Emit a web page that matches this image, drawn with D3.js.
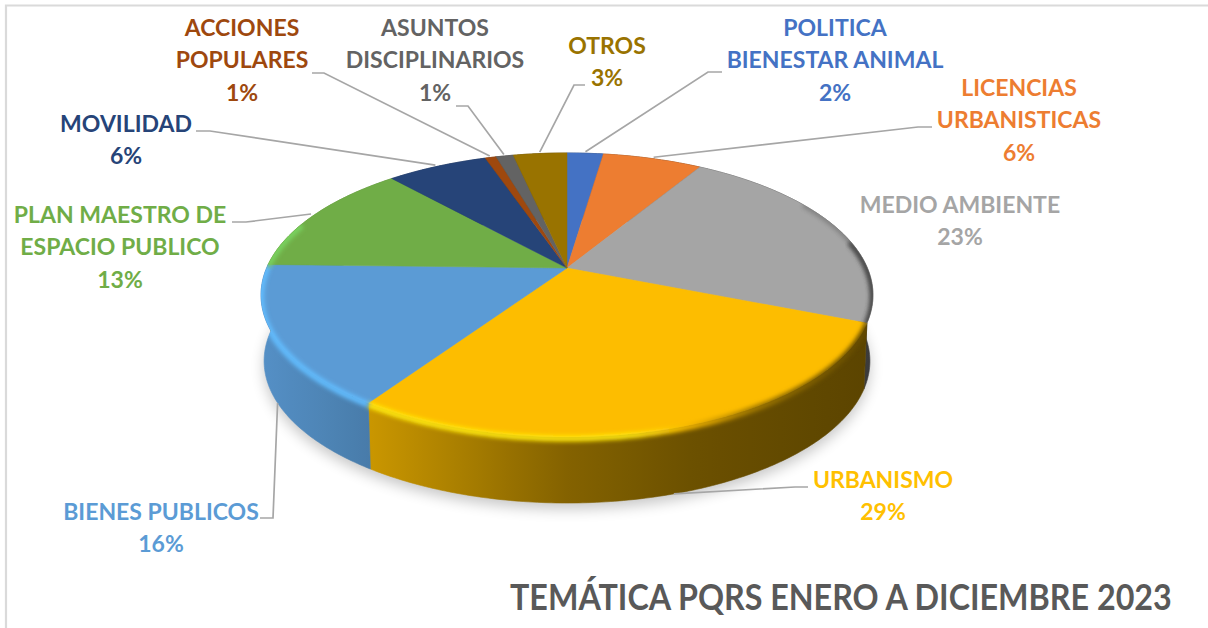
<!DOCTYPE html>
<html><head><meta charset="utf-8">
<script src="https://cdn.jsdelivr.net/npm/d3@7"></script>
<style>html,body{margin:0;padding:0;background:#fff;overflow:hidden}svg{display:block}text{font-family:Lato,"Open Sans",sans-serif;font-weight:700}</style>
</head><body><svg id="c" width="1208" height="628"></svg>
<script>
const titleText = "TEMÁTICA PQRS ENERO A DICIEMBRE 2023";
const categories = ["POLITICA BIENESTAR ANIMAL","LICENCIAS URBANISTICAS","MEDIO AMBIENTE","URBANISMO","BIENES PUBLICOS","PLAN MAESTRO DE ESPACIO PUBLICO","MOVILIDAD","ACCIONES POPULARES","ASUNTOS DISCIPLINARIOS","OTROS"];
const values = [2.3,6.3,22.5,28.3,16,13,6.4,0.7,1.1,3.4];
const percentLabels = ["2%","6%","23%","29%","16%","13%","6%","1%","1%","3%"];
const colors = ["#4472c4","#ed7d31","#a5a5a5","#fdbd00","#5b9bd5","#70ad47","#264478","#9e480e","#636363","#997300"];

/* layout (not data) */
const labelLines = [["POLITICA","BIENESTAR ANIMAL"],["LICENCIAS","URBANISTICAS"],["MEDIO AMBIENTE"],["URBANISMO"],["BIENES PUBLICOS"],["PLAN MAESTRO DE","ESPACIO PUBLICO"],["MOVILIDAD"],["ACCIONES","POPULARES"],["ASUNTOS","DISCIPLINARIOS"],["OTROS"]];
const labelPos = [[835,35.5],[1019,95.5],[960,212.5],[883,487.5],[161,519.5],[120,222.5],[126,131.5],[242,35.5],[435,35.5],[607,53.5]];
const elbows = [[[722,72],[708,72]],[[932,127],[918,127]],null,[[808,487],[795,487]],[[260,518],[273,518]],[[232,222],[246,222]],[[196,131],[210,131]],[[312,73],[324,73]],[[456,106],[468,106]],[[585,85],[574,85]]];
const FS = 23, LH = 32.5;
const cx = 567, cy = 268, k = 136.9, c = -0.19, d = 300.4, depth = 66, bx = 0.99;

const svg = d3.select("#c");
const defs = svg.append("defs");
const proj = (a, z=0, r=1) => {
  const u = Math.sin(a)*r, v = -Math.cos(a)*r, w = 1 + c*v;
  const f = 1 - (1-bx)*z;
  return [cx + f*d*u/w, cy + k*v/w + depth*z];
};
const arcs = d3.pie().sort(null).value(v=>v)(values);
const line = d3.line();
const sample = (a0,a1,z=0) => d3.range(0,1.0001,1/Math.max(2,Math.ceil((a1-a0)*80))).map(t=>proj(a0+(a1-a0)*t,z));

[["b8",7],["b2",2.2]].forEach(([id,s])=>{
  defs.append("filter").attr("id",id).attr("x","-20%").attr("y","-20%").attr("width","140%").attr("height","140%")
    .append("feGaussianBlur").attr("stdDeviation",s);
});
/* frame: only the top and left edges fall inside the picture */
svg.append("path").attr("d",line([[6,628],[6,5.5],[1208,5.5]])).attr("fill","none").attr("stroke","#dadada").attr("stroke-width",2.2);

/* soft shadow below the pie */
const full = sample(0,2*Math.PI,1).map(p=>[p[0],p[1]+6]);
svg.append("path").attr("d",line(full)+"Z").attr("fill","#000").attr("opacity",0.22).attr("filter","url(#b8)");

const shade = d3.scaleLinear().domain([261,367,567,700,873]).range([0.93,0.8,0.52,0.42,0.36]).clamp(true);
const tone = (col,t)=>{const q=d3.rgb(col);return d3.rgb(q.r*t,q.g*t,q.b*t).formatHex();};
const grad = (id,stopsFn,x1,x2)=>{
  const g = defs.append("linearGradient").attr("id",id).attr("gradientUnits","userSpaceOnUse").attr("x1",x1).attr("x2",x2).attr("y1",0).attr("y2",0);
  d3.range(0,1.0001,0.05).forEach(t=>{g.append("stop").attr("offset",t).attr("stop-color",stopsFn(x1+(x2-x1)*t));});
};

/* walls */
arcs.forEach((s,i)=>{
  grad("w"+i,x=>tone(colors[i],shade(x)),261,873);
  const top = sample(s.startAngle,s.endAngle,0), bot = sample(s.startAngle,s.endAngle,1).reverse();
  svg.append("path").attr("class","wall").attr("d",line(top.concat(bot))+"Z").attr("fill",`url(#w${i})`).attr("stroke",`url(#w${i})`).attr("stroke-width",0.6);
});

/* clip for bevel */
const clip = defs.append("clipPath").attr("id","sil");
clip.append("path").attr("d",line(sample(0,2*Math.PI,0))+"Z");
arcs.forEach(s=>clip.append("path").attr("d",line(sample(s.startAngle,s.endAngle,0).concat(sample(s.startAngle,s.endAngle,1).reverse()))+"Z"));

/* top face */
arcs.forEach((s,i)=>{
  const pts = [[cx,cy]].concat(sample(s.startAngle,s.endAngle,0));
  svg.append("path").attr("class","slice").attr("d",line(pts)+"Z").attr("fill",colors[i]).attr("stroke",colors[i]).attr("stroke-width",0.5);
});

/* bevel along the rim */
const bevel = svg.append("g").attr("clip-path","url(#sil)");
const rimMin = 78*Math.PI/180, rimMax = 290*Math.PI/180;
const bevelT = d3.scaleLinear().domain([261,640,760,873]).range([1.22,1.22,0.6,0.38]).clamp(true);
arcs.forEach((s,i)=>{
  const a0=Math.max(s.startAngle,rimMin), a1=Math.min(s.endAngle,rimMax);
  if(a1<=a0) return;
  grad("h"+i,x=>{const t=bevelT(x),q=d3.rgb(colors[i]);return t>1?d3.rgb(Math.min(255,q.r*1.08),Math.min(255,q.g*t),Math.min(255,q.b*t+10)).formatHex():tone(colors[i],t);},261,873);
  bevel.append("path").attr("d",line(sample(a0,a1,0).map(p=>[p[0],p[1]+1.5])))
    .attr("fill","none").attr("stroke",`url(#h${i})`).attr("stroke-width",6).attr("filter","url(#b2)");
});

/* soft darkening of the gray slice toward the right edge */
const gi = categories.indexOf("MEDIO AMBIENTE");
bevel.append("path").attr("d",line(sample(arcs[gi].startAngle+0.5,arcs[gi].endAngle,0)))
  .attr("fill","none").attr("stroke","#555").attr("stroke-width",5).attr("opacity",0.45).attr("filter","url(#b2)");

/* leaders */
arcs.forEach((s,i)=>{
  if(!elbows[i]) return;
  const mid=(s.startAngle+s.endAngle)/2, front=Math.cos(mid)<-0.2;
  const end = front?proj(mid,1):proj(mid,0,1.015);
  svg.append("path").attr("d",line(elbows[i].concat([end]))).attr("fill","none").attr("stroke","#a6a6a6").attr("stroke-width",1.7);
});

/* labels */
categories.forEach((cat,i)=>{
  const t = svg.append("text").attr("class","label").attr("text-anchor","middle").attr("font-size",FS).attr("fill",colors[i]==="#fdbd00"?"#ffc000":colors[i]);
  labelLines[i].concat([percentLabels[i]]).forEach((l,j)=>{
    t.append("tspan").attr("x",labelPos[i][0]).attr("y",labelPos[i][1]+j*LH).text(l);
  });
});
const title = svg.append("text").attr("font-size",36).attr("fill","#595959").text(titleText);
const natural = title.node().getComputedTextLength();
title.attr("transform",`translate(510,610) scale(${662/natural},1)`);
</script></body></html>
